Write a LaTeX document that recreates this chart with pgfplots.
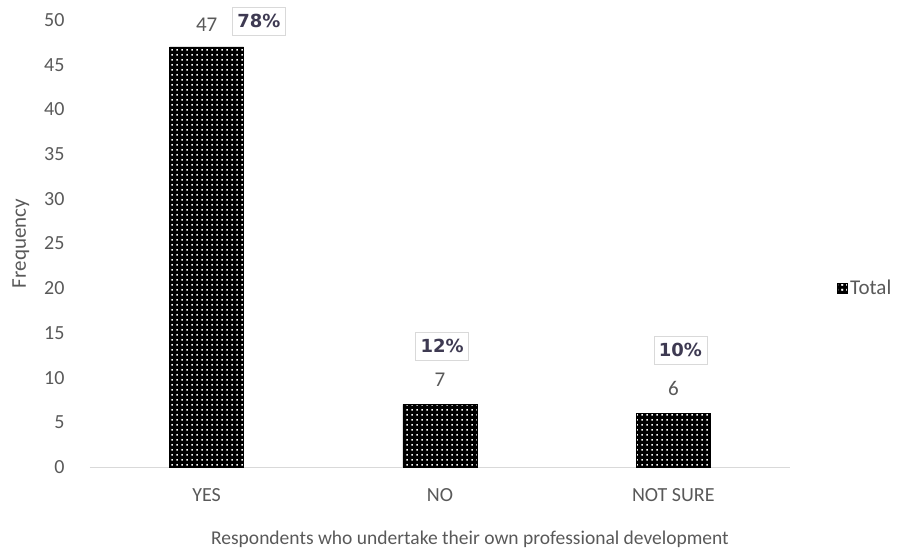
\documentclass[border=0pt]{standalone}
\usepackage{pgfplots}
\pgfplotsset{compat=1.18}
\usetikzlibrary{patterns}
\usepackage{fontspec}
\setmainfont{Carlito}
\newfontfamily\pctfont{DejaVu Sans}
\definecolor{txt}{HTML}{595959}
\definecolor{axl}{HTML}{D9D9D9}
\definecolor{pct}{HTML}{3E3A52}
\pgfdeclarepatternformonly{bigdots}{\pgfqpoint{0pt}{0pt}}{\pgfqpoint{5pt}{5pt}}{\pgfqpoint{5pt}{5pt}}{%
  \pgfpathrectangle{\pgfqpoint{1.5pt}{1.5pt}}{\pgfqpoint{2pt}{2pt}}\pgfusepath{fill}}
\begin{document}
\begin{tikzpicture}
\path[use as bounding box] (-90pt,-85pt) rectangle (813pt,467pt);
\begin{axis}[
  scale only axis, width=700pt, height=447pt,
  xmin=-0.5, xmax=2.5, ymin=0, ymax=50,
  xtick={0,1,2}, xticklabels={YES,NO,NOT SURE},
  ytick={0,5,...,50},
  axis x line*=bottom, axis y line*=left,
  x axis line style={axl, line width=1pt, -},
  y axis line style={draw=none},
  major tick length=0pt,
  tick label style={font=\fontsize{20}{22}\selectfont, text=txt},
  /pgf/number format/assume math mode=true,
  xticklabel style={yshift=-18pt},
  yticklabel style={xshift=-22pt},
  ylabel={Frequency},
  ylabel style={font=\fontsize{21}{23}\selectfont, text=txt, yshift=8pt},
  xlabel={Respondents who undertake their own professional development},
  xlabel style={font=\fontsize{19.5}{22}\selectfont, text=txt, yshift=-22pt, xshift=30pt},
  clip=false,
  legend style={draw=none, at={(1.062,0.40)}, anchor=west, font=\fontsize{21}{23}\selectfont, text=txt, legend cell align=left, nodes={inner xsep=3pt}},
  legend image code/.code={\draw[fill=black, postaction={pattern=bigdots, pattern color=white}] (0cm,-0.18cm) rectangle (0.36cm,0.18cm);},
]
\addplot[ybar, bar width=74pt, draw=black, fill=black,
  postaction={pattern=bigdots, pattern color=white}]
  coordinates {(0,47) (1,7) (2,6)};
\addlegendentry{Total}
\node[text=txt, font=\fontsize{21}{23}\selectfont] at (axis cs:0,49.5) {47};
\node[text=txt, font=\fontsize{21}{23}\selectfont] at (axis cs:1.0,9.73) {7};
\node[text=txt, font=\fontsize{21}{23}\selectfont] at (axis cs:2.0,8.8) {6};
\begin{scope}[every node/.style={draw=axl, fill=white, text=pct, font=\pctfont\bfseries\fontsize{18}{20}\selectfont, inner xsep=5pt, inner ysep=4pt, minimum height=28pt}]
\node at (axis cs:0.224,49.9) {78\%};
\node at (axis cs:1.009,13.53) {12\%};
\node at (axis cs:2.03,13.09) {10\%};
\end{scope}
\end{axis}
\end{tikzpicture}
\end{document}
